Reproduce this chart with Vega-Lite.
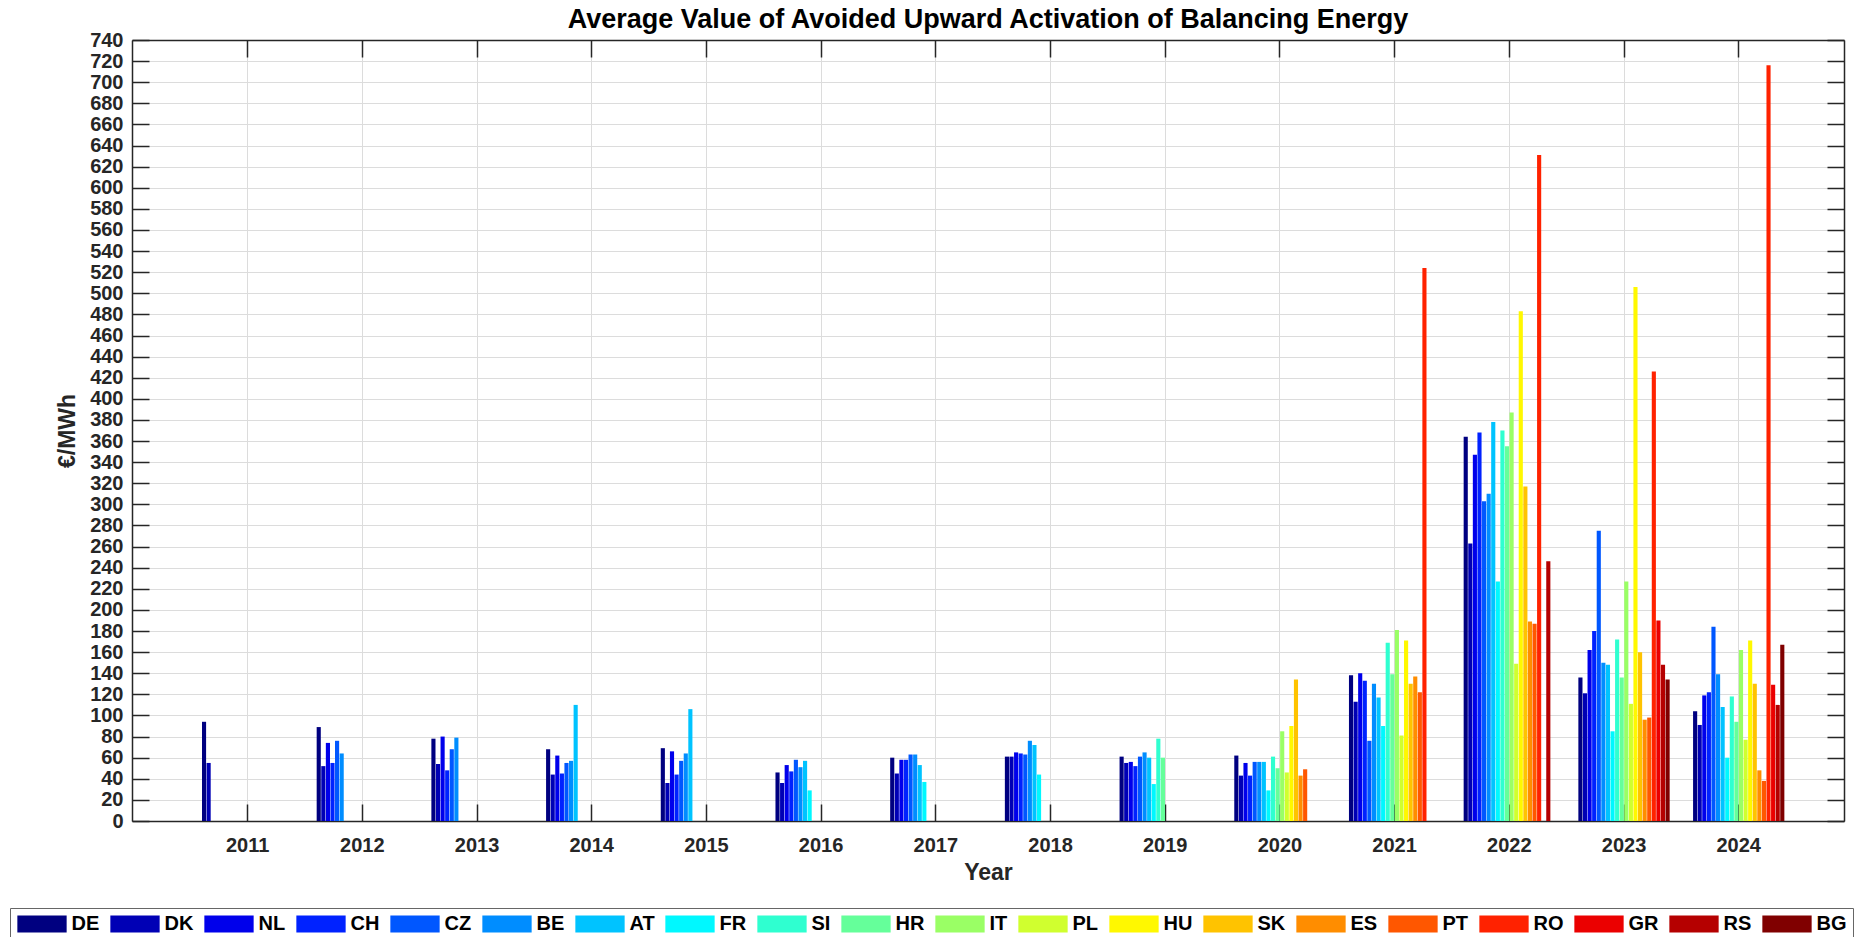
{
  "$schema": "https://vega.github.io/schema/vega-lite/v6.json",
  "width": 1712,
  "height": 781,
  "autosize": "none",
  "padding": {"left": 132, "top": 40, "right": 11, "bottom": 116},
  "background": "white",
  "title": {"text": "Average Value of Avoided Upward Activation of Balancing Energy", "font": "Liberation Sans", "fontSize": 27, "fontWeight": "bold", "color": "#000000", "anchor": "middle", "offset": -4},
  "data": {"values": [
    {"year": 2011, "country": "DE", "value": 94}, {"year": 2011, "country": "DK", "value": 55},
    {"year": 2012, "country": "DE", "value": 89}, {"year": 2012, "country": "DK", "value": 52}, {"year": 2012, "country": "NL", "value": 74}, {"year": 2012, "country": "CH", "value": 55}, {"year": 2012, "country": "CZ", "value": 76}, {"year": 2012, "country": "BE", "value": 64},
    {"year": 2013, "country": "DE", "value": 78}, {"year": 2013, "country": "DK", "value": 54}, {"year": 2013, "country": "NL", "value": 80}, {"year": 2013, "country": "CH", "value": 48}, {"year": 2013, "country": "CZ", "value": 68}, {"year": 2013, "country": "BE", "value": 79},
    {"year": 2014, "country": "DE", "value": 68}, {"year": 2014, "country": "DK", "value": 44}, {"year": 2014, "country": "NL", "value": 62}, {"year": 2014, "country": "CH", "value": 45}, {"year": 2014, "country": "CZ", "value": 55}, {"year": 2014, "country": "BE", "value": 57}, {"year": 2014, "country": "AT", "value": 110},
    {"year": 2015, "country": "DE", "value": 69}, {"year": 2015, "country": "DK", "value": 36}, {"year": 2015, "country": "NL", "value": 66}, {"year": 2015, "country": "CH", "value": 44}, {"year": 2015, "country": "CZ", "value": 57}, {"year": 2015, "country": "BE", "value": 64}, {"year": 2015, "country": "AT", "value": 106},
    {"year": 2016, "country": "DE", "value": 46}, {"year": 2016, "country": "DK", "value": 36}, {"year": 2016, "country": "NL", "value": 53}, {"year": 2016, "country": "CH", "value": 47}, {"year": 2016, "country": "CZ", "value": 58}, {"year": 2016, "country": "BE", "value": 51}, {"year": 2016, "country": "AT", "value": 57}, {"year": 2016, "country": "FR", "value": 29},
    {"year": 2017, "country": "DE", "value": 60}, {"year": 2017, "country": "DK", "value": 45}, {"year": 2017, "country": "NL", "value": 58}, {"year": 2017, "country": "CH", "value": 58}, {"year": 2017, "country": "CZ", "value": 63}, {"year": 2017, "country": "BE", "value": 63}, {"year": 2017, "country": "AT", "value": 53}, {"year": 2017, "country": "FR", "value": 37},
    {"year": 2018, "country": "DE", "value": 61}, {"year": 2018, "country": "DK", "value": 61}, {"year": 2018, "country": "NL", "value": 65}, {"year": 2018, "country": "CH", "value": 64}, {"year": 2018, "country": "CZ", "value": 63}, {"year": 2018, "country": "BE", "value": 76}, {"year": 2018, "country": "AT", "value": 72}, {"year": 2018, "country": "FR", "value": 44},
    {"year": 2019, "country": "DE", "value": 61}, {"year": 2019, "country": "DK", "value": 55}, {"year": 2019, "country": "NL", "value": 56}, {"year": 2019, "country": "CH", "value": 52}, {"year": 2019, "country": "CZ", "value": 61}, {"year": 2019, "country": "BE", "value": 65}, {"year": 2019, "country": "AT", "value": 60}, {"year": 2019, "country": "FR", "value": 35}, {"year": 2019, "country": "SI", "value": 78}, {"year": 2019, "country": "HR", "value": 60},
    {"year": 2020, "country": "DE", "value": 62}, {"year": 2020, "country": "DK", "value": 43}, {"year": 2020, "country": "NL", "value": 55}, {"year": 2020, "country": "CH", "value": 43}, {"year": 2020, "country": "CZ", "value": 56}, {"year": 2020, "country": "BE", "value": 56}, {"year": 2020, "country": "AT", "value": 56}, {"year": 2020, "country": "FR", "value": 29}, {"year": 2020, "country": "SI", "value": 61}, {"year": 2020, "country": "HR", "value": 50}, {"year": 2020, "country": "IT", "value": 85}, {"year": 2020, "country": "PL", "value": 46}, {"year": 2020, "country": "HU", "value": 90}, {"year": 2020, "country": "SK", "value": 134}, {"year": 2020, "country": "ES", "value": 43}, {"year": 2020, "country": "PT", "value": 49},
    {"year": 2021, "country": "DE", "value": 138}, {"year": 2021, "country": "DK", "value": 113}, {"year": 2021, "country": "NL", "value": 140}, {"year": 2021, "country": "CH", "value": 133}, {"year": 2021, "country": "CZ", "value": 76}, {"year": 2021, "country": "BE", "value": 130}, {"year": 2021, "country": "AT", "value": 117}, {"year": 2021, "country": "FR", "value": 90}, {"year": 2021, "country": "SI", "value": 169}, {"year": 2021, "country": "HR", "value": 139}, {"year": 2021, "country": "IT", "value": 181}, {"year": 2021, "country": "PL", "value": 81}, {"year": 2021, "country": "HU", "value": 171}, {"year": 2021, "country": "SK", "value": 130}, {"year": 2021, "country": "ES", "value": 137}, {"year": 2021, "country": "PT", "value": 122}, {"year": 2021, "country": "RO", "value": 524},
    {"year": 2022, "country": "DE", "value": 364}, {"year": 2022, "country": "DK", "value": 263}, {"year": 2022, "country": "NL", "value": 347}, {"year": 2022, "country": "CH", "value": 368}, {"year": 2022, "country": "CZ", "value": 303}, {"year": 2022, "country": "BE", "value": 310}, {"year": 2022, "country": "AT", "value": 378}, {"year": 2022, "country": "FR", "value": 227}, {"year": 2022, "country": "SI", "value": 370}, {"year": 2022, "country": "HR", "value": 355}, {"year": 2022, "country": "IT", "value": 387}, {"year": 2022, "country": "PL", "value": 149}, {"year": 2022, "country": "HU", "value": 483}, {"year": 2022, "country": "SK", "value": 317}, {"year": 2022, "country": "ES", "value": 189}, {"year": 2022, "country": "PT", "value": 187}, {"year": 2022, "country": "RO", "value": 631}, {"year": 2022, "country": "RS", "value": 246},
    {"year": 2023, "country": "DE", "value": 136}, {"year": 2023, "country": "DK", "value": 121}, {"year": 2023, "country": "NL", "value": 162}, {"year": 2023, "country": "CH", "value": 180}, {"year": 2023, "country": "CZ", "value": 275}, {"year": 2023, "country": "BE", "value": 150}, {"year": 2023, "country": "AT", "value": 148}, {"year": 2023, "country": "FR", "value": 85}, {"year": 2023, "country": "SI", "value": 172}, {"year": 2023, "country": "HR", "value": 136}, {"year": 2023, "country": "IT", "value": 227}, {"year": 2023, "country": "PL", "value": 111}, {"year": 2023, "country": "HU", "value": 506}, {"year": 2023, "country": "SK", "value": 160}, {"year": 2023, "country": "ES", "value": 96}, {"year": 2023, "country": "PT", "value": 98}, {"year": 2023, "country": "RO", "value": 426}, {"year": 2023, "country": "GR", "value": 190}, {"year": 2023, "country": "RS", "value": 148}, {"year": 2023, "country": "BG", "value": 134},
    {"year": 2024, "country": "DE", "value": 104}, {"year": 2024, "country": "DK", "value": 91}, {"year": 2024, "country": "NL", "value": 119}, {"year": 2024, "country": "CH", "value": 122}, {"year": 2024, "country": "CZ", "value": 184}, {"year": 2024, "country": "BE", "value": 139}, {"year": 2024, "country": "AT", "value": 108}, {"year": 2024, "country": "FR", "value": 60}, {"year": 2024, "country": "SI", "value": 118}, {"year": 2024, "country": "HR", "value": 94}, {"year": 2024, "country": "IT", "value": 162}, {"year": 2024, "country": "PL", "value": 77}, {"year": 2024, "country": "HU", "value": 171}, {"year": 2024, "country": "SK", "value": 130}, {"year": 2024, "country": "ES", "value": 48}, {"year": 2024, "country": "PT", "value": 38}, {"year": 2024, "country": "RO", "value": 716}, {"year": 2024, "country": "GR", "value": 129}, {"year": 2024, "country": "RS", "value": 110}, {"year": 2024, "country": "BG", "value": 167}
  ]},
  "layer": [
    {
      "mark": {"type": "bar"},
      "encoding": {
        "x": {"field": "year", "type": "ordinal", "scale": {"paddingInner": 0.2, "paddingOuter": 0.563, "align": 0.54},
          "axis": {"orient": "bottom", "title": "Year", "labelAngle": 0, "grid": true, "bandPosition": 0.5, "tickSize": -17, "labelPadding": 31, "titlePadding": 6}},
        "xOffset": {"field": "country", "type": "nominal", "scale": {"domain": ["DE","DK","NL","CH","CZ","BE","AT","FR","SI","HR","IT","PL","HU","SK","ES","PT","RO","GR","RS","BG"], "paddingInner": 0.1, "paddingOuter": 0.05}},
        "y": {"field": "value", "type": "quantitative", "scale": {"domain": [0, 740], "nice": false},
          "axis": {"orient": "left", "title": "€/MWh", "values": [0,20,40,60,80,100,120,140,160,180,200,220,240,260,280,300,320,340,360,380,400,420,440,460,480,500,520,540,560,580,600,620,640,660,680,700,720,740], "grid": true, "tickSize": -17, "labelPadding": 26, "titlePadding": 10}},
        "color": {"field": "country", "type": "nominal",
          "scale": {"domain": ["DE","DK","NL","CH","CZ","BE","AT","FR","SI","HR","IT","PL","HU","SK","ES","PT","RO","GR","RS","BG"],
            "range": ["#000080","#0000B5","#0000EB","#0022FF","#0057FF","#008DFF","#00C3FF","#00F8FF","#2FFFD0","#65FF9A","#9AFF65","#D0FF2F","#FFF800","#FFC300","#FF8D00","#FF5700","#FF2200","#EB0000","#B50000","#800000"]},
          "legend": {"orient": "none", "legendX": -122, "legendY": 868, "direction": "horizontal", "columns": 20, "title": null,
            "symbolType": "M-2.9,-1H2.9V1H-2.9Z", "symbolSize": 289, "symbolOffset": 16, "symbolStrokeWidth": 0, "symbolOpacity": 1,
            "labelFont": "Liberation Sans", "labelFontSize": 20, "labelFontWeight": "bold", "labelColor": "#000000", "labelOffset": 19.5,
            "columnPadding": 9, "padding": 6, "strokeColor": "#666666", "fillColor": "#ffffff"}}
      }
    },
    {
      "mark": {"type": "point", "opacity": 0},
      "encoding": {
        "x": {"field": "year", "type": "ordinal", "axis": {"orient": "top", "title": null, "labels": false, "grid": false, "bandPosition": 0.5, "tickSize": -17}},
        "y": {"field": "value", "type": "quantitative", "axis": {"orient": "right", "title": null, "labels": false, "grid": false, "tickSize": -17, "values": [0,20,40,60,80,100,120,140,160,180,200,220,240,260,280,300,320,340,360,380,400,420,440,460,480,500,520,540,560,580,600,620,640,660,680,700,720,740]}}
      }
    }
  ],
  "resolve": {"axis": {"x": "independent", "y": "independent"}},
  "config": {
    "view": {"stroke": null},
    "axis": {
      "domainColor": "#262626", "domainWidth": 1.5, "tickColor": "#262626", "tickWidth": 1.5,
      "gridColor": "#dcdcdc", "gridWidth": 1,
      "labelFont": "Liberation Sans", "labelFontSize": 20, "labelFontWeight": "bold", "labelColor": "#262626",
      "titleFont": "Liberation Sans", "titleFontSize": 23, "titleFontWeight": "bold", "titleColor": "#262626"
    }
  }
}
